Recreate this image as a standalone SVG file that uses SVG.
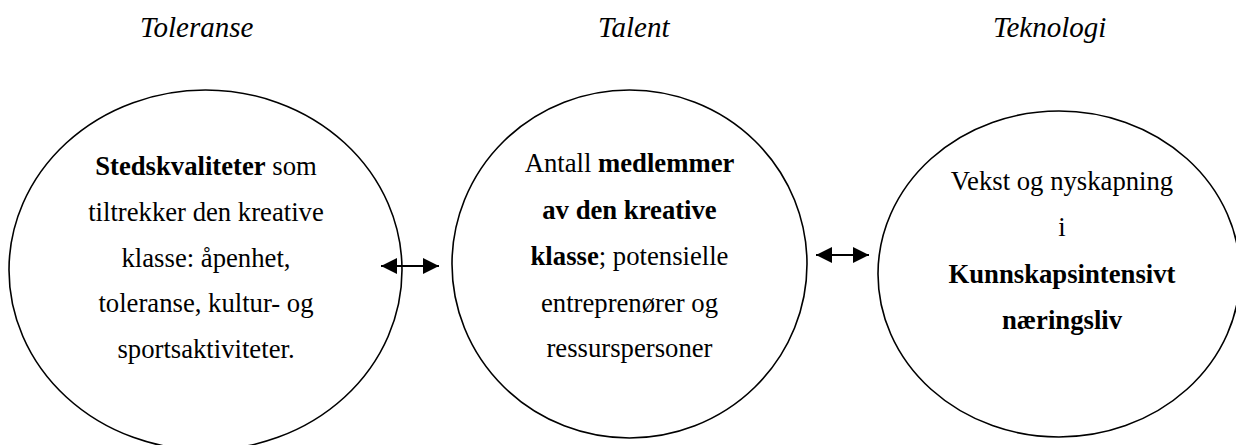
<svg xmlns="http://www.w3.org/2000/svg" width="1236" height="445" viewBox="0 0 1236 445">
<style>
.t{font-family:'Liberation Serif','DejaVu Serif',serif;font-style:italic;font-size:29px;fill:#000}
.b{font-family:'Liberation Serif','DejaVu Serif',serif;font-size:26.7px;fill:#000;text-anchor:middle}
.bold{font-weight:bold}
.c{fill:#fff;stroke:#000;stroke-width:1.6}
.l{stroke:#000;stroke-width:1.8;fill:none}
</style>
<defs>
<marker id="ah" markerUnits="userSpaceOnUse" markerWidth="17" markerHeight="16" refX="16" refY="8" orient="auto-start-reverse">
<path d="M0,0 L16,8 L0,16 Z" fill="#000"/>
</marker>
</defs>
<rect width="1236" height="445" fill="#fff"/>
<g id="titles">
<text class="t" x="140" y="37">Toleranse</text>
<text class="t" x="598" y="37">Talent</text>
<text class="t" x="993" y="37">Teknologi</text>
</g>
<g id="node-toleranse">
<ellipse class="c" cx="205.5" cy="270" rx="196.5" ry="180"/>
<text class="b" x="206" y="175"><tspan class="bold">Stedskvaliteter</tspan> som</text>
<text class="b" x="206" y="221">tiltrekker den kreative</text>
<text class="b" x="206" y="267">klasse: åpenhet,</text>
<text class="b" x="206" y="312">toleranse, kultur- og</text>
<text class="b" x="206" y="358">sportsaktiviteter.</text>
</g>
<g id="node-talent">
<ellipse class="c" cx="629.5" cy="264" rx="177.5" ry="174"/>
<text class="b" x="629.5" y="172">Antall <tspan class="bold">medlemmer</tspan></text>
<text class="b bold" x="629.5" y="219">av den kreative</text>
<text class="b" x="629.5" y="265"><tspan class="bold">klasse</tspan>; potensielle</text>
<text class="b" x="629.5" y="312">entreprenører og</text>
<text class="b" x="629.5" y="357">ressurspersoner</text>
</g>
<g id="node-teknologi">
<ellipse class="c" cx="1059" cy="274" rx="181" ry="163"/>
<text class="b" x="1062" y="190">Vekst og nyskapning</text>
<text class="b" x="1062" y="236">i</text>
<text class="b bold" x="1062" y="283">Kunnskapsintensivt</text>
<text class="b bold" x="1062" y="329">næringsliv</text>
</g>
<g id="connectors">
<line class="l" x1="381" y1="266" x2="439" y2="266" marker-start="url(#ah)" marker-end="url(#ah)"/>
<line class="l" x1="816" y1="255" x2="869" y2="255" marker-start="url(#ah)" marker-end="url(#ah)"/>
</g>
</svg>
